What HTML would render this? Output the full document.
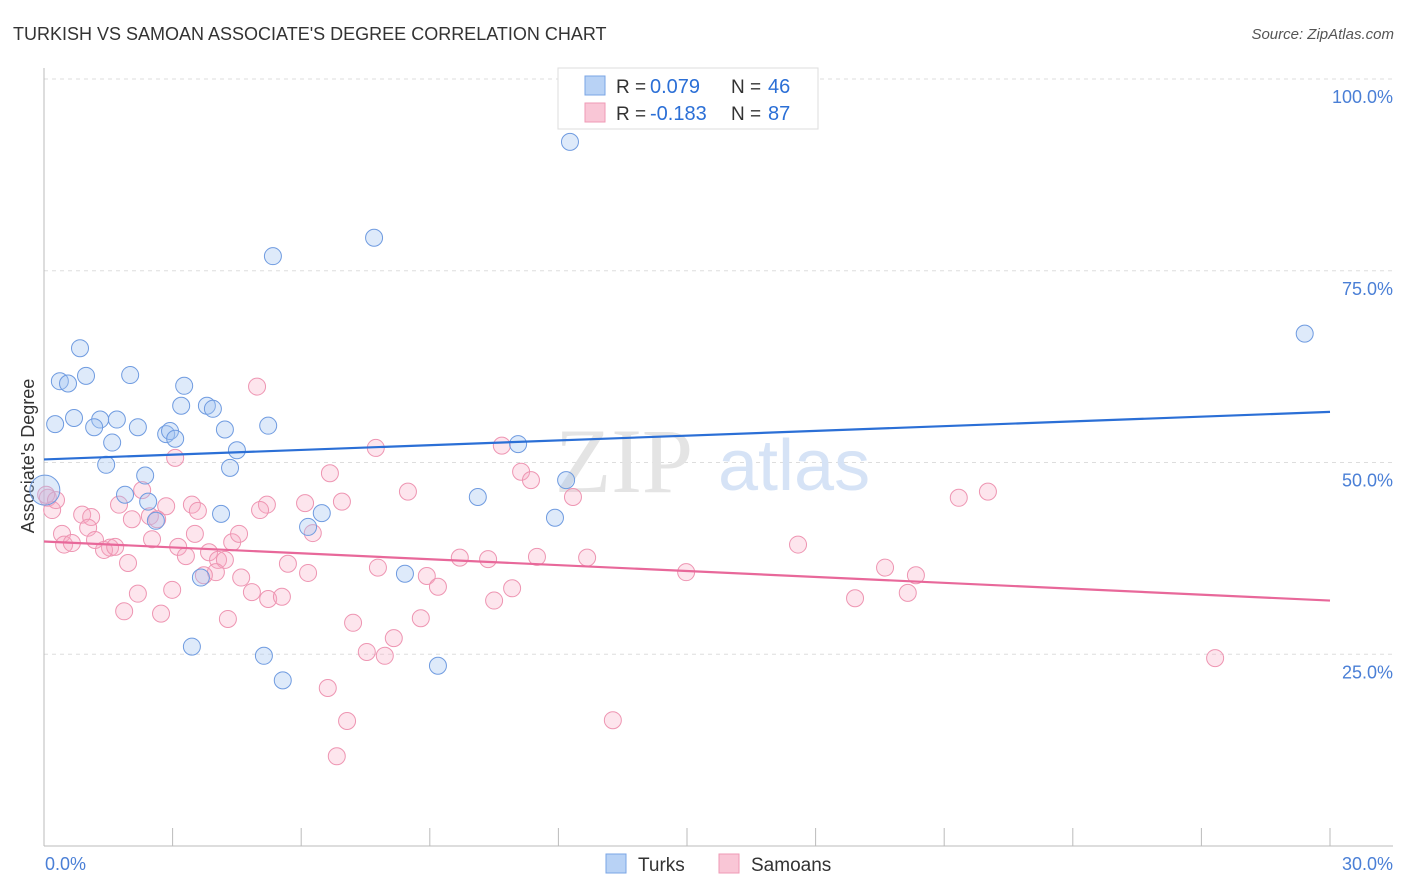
<!DOCTYPE html>
<html><head><meta charset="utf-8"><style>
body{margin:0;background:#fff;font-family:"Liberation Sans",sans-serif}
svg{display:block}
</style></head><body>
<svg id="c" width="1406" height="892"></svg>
<script>
const xTicks=[0,3,6,9,12,15,18,21,24,27,30];
const yTicks=[25,50,75,100];
const turksPx=[[570,142],[374,238],[273,256],[1305,334],[80,348],[86,376],[130,375],[60,381],[68,384],[184,386],[181,406],[207,406],[213,409],[74,418],[100,420],[117,420],[94,427],[55,424],[138,427],[268,426],[225,430],[166,434],[170,431],[175,439],[112,443],[237,450],[518,444],[106,465],[230,468],[145,476],[566,480],[45,490],[125,495],[148,502],[478,497],[221,514],[322,513],[156,521],[308,527],[555,518],[201,578],[405,574],[192,647],[264,656],[438,666],[283,680]];
const samPx=[[257,387],[376,448],[502,446],[175,458],[330,473],[521,472],[531,480],[408,492],[573,497],[959,498],[988,492],[48,498],[52,510],[142,490],[119,505],[166,506],[192,505],[198,511],[267,505],[260,510],[305,503],[342,502],[82,515],[91,517],[132,519],[150,516],[157,519],[88,528],[62,534],[64,545],[72,543],[95,540],[110,548],[104,550],[115,547],[152,539],[178,547],[186,556],[209,552],[218,560],[225,560],[232,542],[239,534],[195,534],[313,533],[128,563],[288,564],[308,573],[216,572],[204,575],[241,578],[378,568],[427,576],[438,587],[460,558],[488,559],[537,557],[587,558],[686,572],[798,545],[885,568],[916,575],[908,593],[855,598],[512,588],[494,601],[252,592],[268,599],[282,597],[138,594],[172,590],[124,611],[161,614],[228,619],[353,623],[421,618],[394,638],[367,652],[385,656],[328,688],[347,721],[613,720],[337,756],[1215,658],[46,495],[56,500]];
// data values (percent)
const turksX=turksPx.map(p=>+((p[0]-44)/42.87).toFixed(2));
const turksY=turksPx.map(p=>+((846-p[1])/7.668).toFixed(1));
const samX=samPx.map(p=>+((p[0]-44)/42.87).toFixed(2));
const samY=samPx.map(p=>+((846-p[1])/7.668).toFixed(1));
const turksTrend=[50.4,56.6];
const samTrend=[39.7,32.0];

const L=44,R=1330,T=79,B=846;
const sx=v=>L+(R-L)*v/30;
const sy=v=>B-(B-T)*v/100;
const svg=document.getElementById('c');
const NS='http://www.w3.org/2000/svg';
function add(tag,attrs,parent,text){const e=document.createElementNS(NS,tag);for(const k in attrs)e.setAttribute(k,attrs[k]);if(text!=null)e.textContent=text;(parent||svg).appendChild(e);return e;}

let t=add('text',{x:13,y:40,'font-size':18,fill:'#333'},null,"TURKISH VS SAMOAN ASSOCIATE'S DEGREE CORRELATION CHART");

t=add('text',{x:1394,y:39,'font-size':15,fill:'#555','font-style':'italic','text-anchor':'end'},null,"Source: ZipAtlas.com");


// grid
yTicks.forEach(v=>{
 let g=add('line',{x1:L,x2:1393,y1:sy(v),y2:sy(v),stroke:'#ddd','stroke-dasharray':'4,4'});
 
 let l=add('text',{x:1393,y:sy(v)+24,'font-size':18,fill:'#4a7fd6','text-anchor':'end'},null,v.toFixed(1)+'%');
 
});
let ax=add('line',{x1:L,x2:L,y1:68,y2:B,stroke:'#bbb'});

ax=add('line',{x1:L,x2:1393,y1:B,y2:B,stroke:'#bbb'});

xTicks.forEach(v=>{
 let k=add('line',{x1:sx(v),x2:sx(v),y1:828,y2:B,stroke:'#bbb'});
 
});
t=add('text',{x:45,y:870,'font-size':18,fill:'#4a7fd6'},null,'0.0%');

t=add('text',{x:1393,y:870,'font-size':18,fill:'#4a7fd6','text-anchor':'end'},null,'30.0%');

t=add('text',{x:34,y:456,'font-size':18,fill:'#333','text-anchor':'middle',transform:'rotate(-90 34 456)'},null,"Associate's Degree");


// watermark
t=add('text',{x:555,y:492,'font-size':92,fill:'#e4e4e4','font-family':'Liberation Serif'},null,'ZIP');

t=add('text',{x:718,y:490,'font-size':72,fill:'#d6e3f6'},null,'atlas');


// points
samX.forEach((x,i)=>{
 const c=add('circle',{cx:sx(x),cy:sy(samY[i]),r:8.5,fill:'rgba(248,170,195,0.3)',stroke:'#ee95b2','stroke-width':1});
 
});
turksX.forEach((x,i)=>{
 const big=i===31;
 const c=add('circle',{cx:sx(x),cy:sy(turksY[i]),r:big?15:8.5,fill:'rgba(160,195,240,0.35)',stroke:'#6f9be0','stroke-width':1});
 
});
let ln=add('line',{x1:sx(0),x2:sx(30),y1:sy(turksTrend[0]),y2:sy(turksTrend[1]),stroke:'#2b6fd6','stroke-width':2.2});

ln=add('line',{x1:sx(0),x2:sx(30),y1:sy(samTrend[0]),y2:sy(samTrend[1]),stroke:'#e8689a','stroke-width':2.2});


// legend box
const lg=add('g',{});

add('rect',{x:558,y:68,width:260,height:61,fill:'#fff',stroke:'#ddd'},lg);
add('rect',{x:585,y:76,width:20,height:19,fill:'#b8d2f5',stroke:'#7aa5e5'},lg);
add('rect',{x:585,y:103,width:20,height:19,fill:'#f9c6d6',stroke:'#ef9ab5'},lg);
[['0.079','46',93],['-0.183','87',120]].forEach(r=>{
 add('text',{x:616,y:r[2],'font-size':19,fill:'#333'},lg,'R =');
 add('text',{x:650,y:r[2],'font-size':20,fill:'#2b6fd6'},lg,r[0]);
 add('text',{x:731,y:r[2],'font-size':19,fill:'#333'},lg,'N =');
 add('text',{x:768,y:r[2],'font-size':20,fill:'#2b6fd6'},lg,r[1]);
});
// bottom legend
const bl=add('g',{});

add('rect',{x:606,y:854,width:20,height:19,fill:'#b8d2f5',stroke:'#7aa5e5'},bl);
add('text',{x:638,y:871,'font-size':19,fill:'#333'},bl,'Turks');
add('rect',{x:719,y:854,width:20,height:19,fill:'#f9c6d6',stroke:'#ef9ab5'},bl);
add('text',{x:751,y:871,'font-size':19,fill:'#333'},bl,'Samoans');
</script>
</body></html>
